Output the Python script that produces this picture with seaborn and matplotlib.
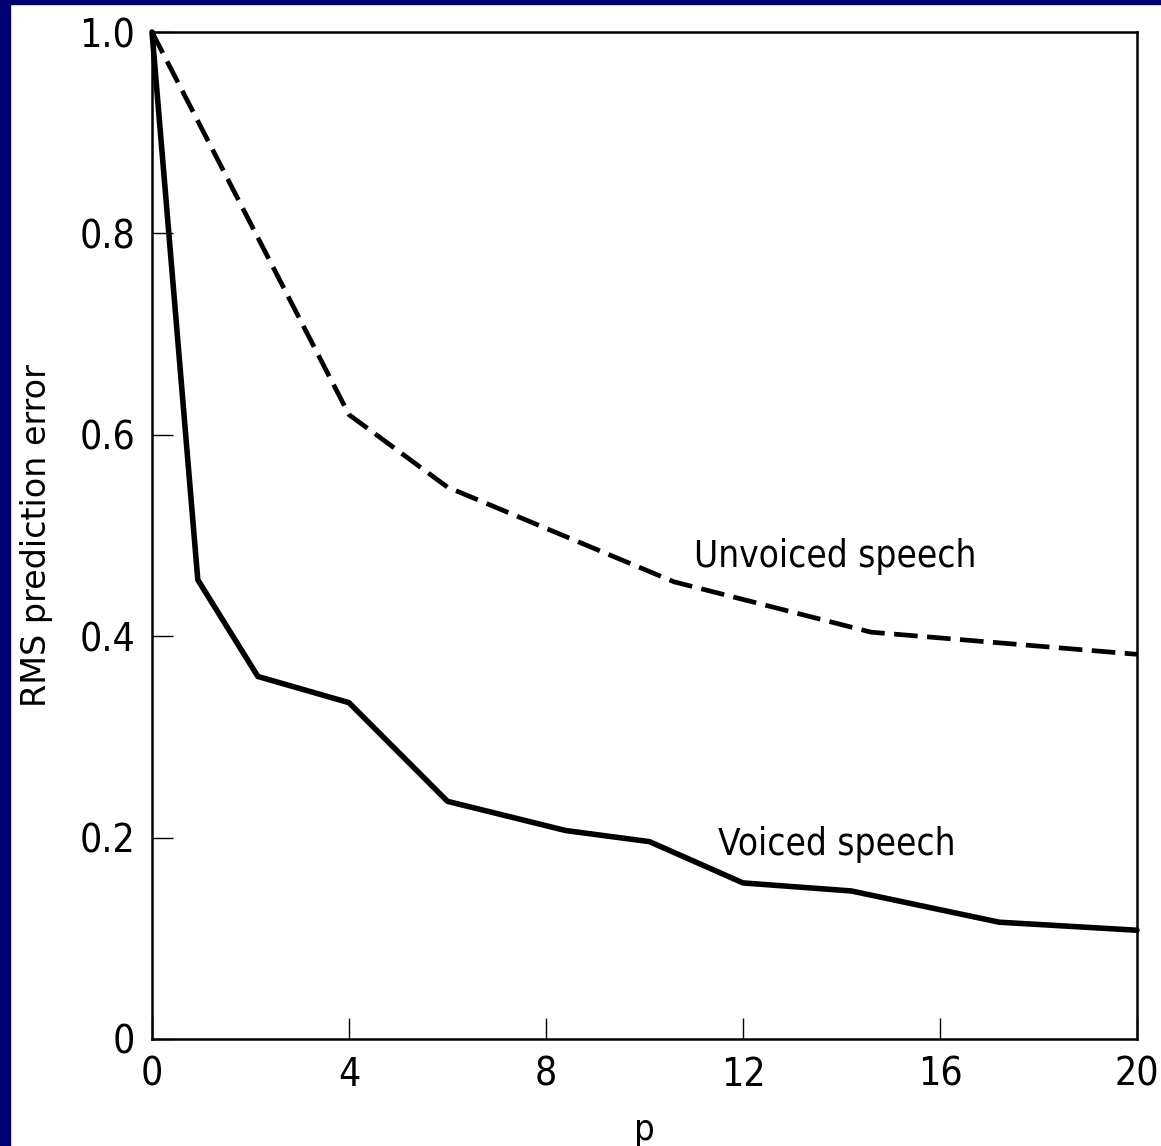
import matplotlib
matplotlib.use('Agg')
import matplotlib.pyplot as plt
import matplotlib.patches as mpatches
import seaborn as sns

# valores
p_sonoro = [0, 0.93, 2.15, 4, 6, 8.4, 10.1, 12, 14.2, 17.2, 20]
erro_sonoro = [1.0, 0.456, 0.36, 0.334, 0.236, 0.207, 0.196, 0.155, 0.147, 0.116, 0.108]

p_surdo = [0, 4, 6, 10.6, 14.6, 20]
erro_surdo = [1.0, 0.62, 0.548, 0.454, 0.404, 0.382]

ticks_x = [0, 4, 8, 12, 16, 20]
ticks_y = [0, 0.2, 0.4, 0.6, 0.8, 1.0]
rotulos_y = ['0', '0.2', '0.4', '0.6', '0.8', '1.0']

sns.set_style('ticks')
plt.rcParams['font.family'] = ['DejaVu Sans']
plt.rcParams['font.stretch'] = 'condensed'
plt.rcParams['text.color'] = 'black'
plt.rcParams['axes.labelcolor'] = 'black'
plt.rcParams['xtick.color'] = 'black'
plt.rcParams['ytick.color'] = 'black'

figura = plt.figure(figsize=(11.61, 11.46), dpi=100)
figura.patch.set_facecolor('white')
# faixas azuis do slide original
figura.patches.append(mpatches.Rectangle((0, 0), 10 / 1161, 1, transform=figura.transFigure,
                                         color='#000070', zorder=0))
figura.patches.append(mpatches.Rectangle((0, 1 - 4 / 1146), 1, 4 / 1146, transform=figura.transFigure,
                                         color='#000070', zorder=0))

eixo = figura.add_axes([152 / 1161, 1 - 1039 / 1146, 985 / 1161, 1007 / 1146])

sns.lineplot(x=p_sonoro, y=erro_sonoro, ax=eixo, color='black', linewidth=4.0, clip_on=False)
sns.lineplot(x=p_surdo, y=erro_surdo, ax=eixo, color='black', linewidth=3.4,
             linestyle=(0, (5.0, 2.0)), clip_on=False)

eixo.set_xlim(0, 20)
eixo.set_ylim(0, 1.0)
eixo.set_xticks(ticks_x)
eixo.set_xticklabels([str(t) for t in ticks_x])
eixo.set_yticks(ticks_y)
eixo.set_yticklabels(rotulos_y)
eixo.tick_params(direction='in', length=15, width=1.0, labelsize=28, pad=12)

for lado in eixo.spines.values():
    lado.set_linewidth(1.8)
    lado.set_color('black')

eixo.set_xlabel('p', fontsize=26, labelpad=14)
eixo.set_ylabel('RMS prediction error', fontsize=24, fontstretch='normal')
eixo.yaxis.set_label_coords(-0.1, 0.5)

eixo.text(11.0, 0.479, 'Unvoiced speech', fontsize=26.5, va='center', ha='left')
eixo.text(11.5, 0.193, 'Voiced speech', fontsize=26.5, va='center', ha='left')

figura.savefig('out.png', dpi=100, facecolor='white')
